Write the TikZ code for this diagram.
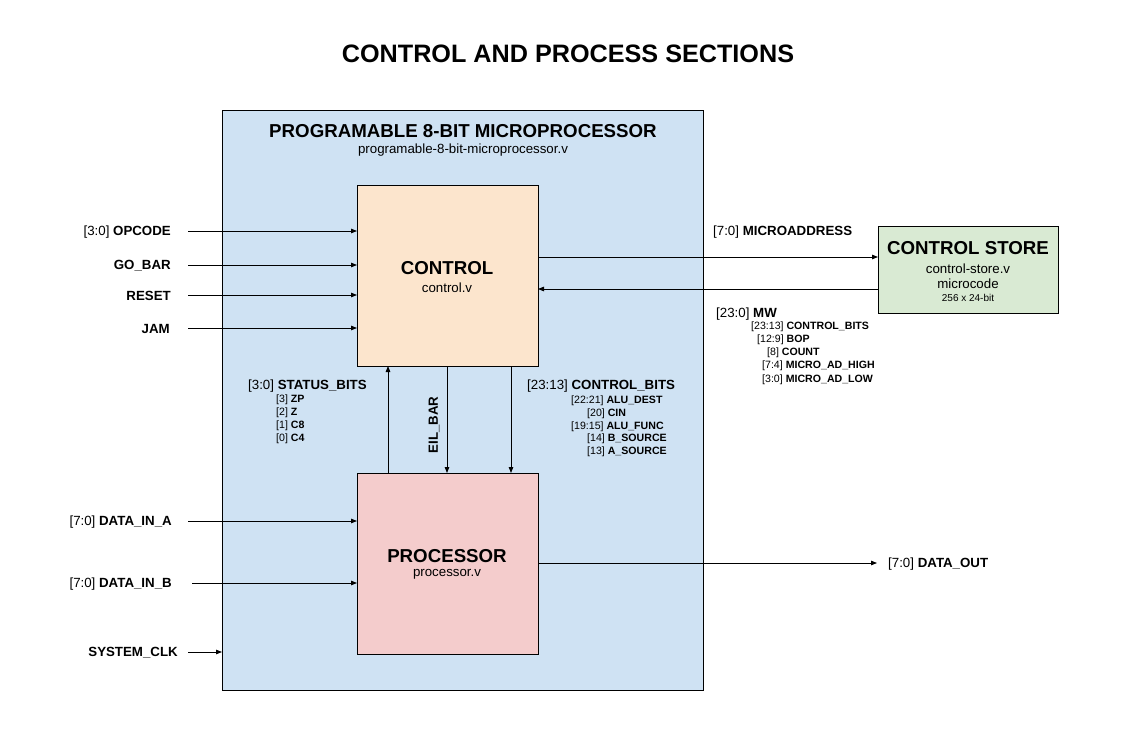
\documentclass[tikz,border=0pt]{standalone}
\usepackage{fontspec}
\setmainfont{Liberation Sans}
\usetikzlibrary{arrows.meta}
\definecolor{outerblue}{HTML}{CFE2F3}
\definecolor{ctrlorange}{HTML}{FCE5CD}
\definecolor{procred}{HTML}{F4CCCC}
\definecolor{storegreen}{HTML}{D9EAD3}
\newcommand{\fsz}[1]{\fontsize{#1}{#1}\selectfont}
\begin{document}
\begin{tikzpicture}[x=1pt,y=-1pt,
  box/.style={draw=black,line width=0.9pt,inner sep=0pt,outer sep=0pt},
  arr/.style={draw=black,line width=0.8pt,-{Triangle[length=6pt,width=4.5pt]}},
  lbl/.style={inner sep=0pt,font=\fsz{13.3}},
  big/.style={inner sep=0pt,font=\fsz{18.7}\bfseries},
  sml/.style={inner sep=0pt,font=\fsz{10.6},anchor=west},
]
\useasboundingbox[fill=white] (0,0) rectangle (1136,736);
% boxes
\node[box,fill=outerblue,minimum width=481pt,minimum height=580pt] (outer) at (462.5,400) {};
\node[box,fill=ctrlorange,minimum width=181pt,minimum height=181pt] (ctrl) at (447.5,275.5) {};
\node[box,fill=procred,minimum width=181pt,minimum height=181pt] (proc) at (447.5,563.5) {};
\node[box,fill=storegreen,minimum width=180pt,minimum height=87pt] (store) at (968,269.5) {};
% titles
\node[inner sep=0pt,font=\fsz{25.2}\bfseries] (title) at (568,54) {CONTROL AND PROCESS SECTIONS};
\node[big] (outertitle) at (463,131.5) {PROGRAMABLE 8-BIT MICROPROCESSOR};
\node[lbl] (outersub) at (463,150.5) {programable-8-bit-microprocessor.v};
\node[big] (ctrltitle) at (447,268.5) {CONTROL};
\node[lbl] (ctrlsub) at (447,287.5) {control.v};
\node[big] (proctitle) at (447,556.5) {PROCESSOR};
\node[lbl] (procsub) at (447,574.5) {processor.v};
\node[big] (storetitle) at (968,248.5) {CONTROL STORE};
\node[lbl] (storesub) at (968,268.5) {control-store.v};
\node[lbl] (storemc) at (968,283.5) {microcode};
\node[inner sep=0pt,font=\fsz{10}] (storesize) at (968,297.5) {256 x 24-bit};
% input labels
\node[lbl,anchor=east] (lopcode) at (171,232.5) {[3:0] \textbf{OPCODE}};
\node[lbl,anchor=east] (lgobar) at (171,266) {\textbf{GO\_BAR}};
\node[lbl,anchor=east] (lreset) at (171,296) {\textbf{RESET}};
\node[lbl,anchor=east] (ljam) at (170,329) {\textbf{JAM}};
\node[lbl,anchor=east] (ldina) at (172,522.5) {[7:0] \textbf{DATA\_IN\_A}};
\node[lbl,anchor=east] (ldinb) at (172,584.5) {[7:0] \textbf{DATA\_IN\_B}};
\node[lbl,anchor=east] (lclk) at (178,653) {\textbf{SYSTEM\_CLK}};
% free ends
\coordinate (opin) at (188,231);
\coordinate (goin) at (188,265);
\coordinate (rsin) at (188,295);
\coordinate (jmin) at (188,328);
\coordinate (dain) at (188,521);
\coordinate (dbin) at (192,583);
\coordinate (clkin) at (188,652);
\coordinate (dout) at (877,563);
\coordinate (marow) at (600,257);
\coordinate (mwrow) at (600,289);
\coordinate (stcol) at (388,400);
\coordinate (eicol) at (447,400);
\coordinate (cbcol) at (511,400);
% input arrows
\draw[arr] (opin) -- (opin -| ctrl.west);
\draw[arr] (goin) -- (goin -| ctrl.west);
\draw[arr] (rsin) -- (rsin -| ctrl.west);
\draw[arr] (jmin) -- (jmin -| ctrl.west);
\draw[arr] (dain) -- (dain -| proc.west);
\draw[arr] (dbin) -- (dbin -| proc.west);
\draw[arr] (clkin) -- (clkin -| outer.west);
% control store links
\draw[arr] (marow -| ctrl.east) -- (marow -| store.west);
\draw[arr] (mwrow -| store.west) -- (mwrow -| ctrl.east);
% vertical links
\draw[arr] (stcol |- proc.north) -- (stcol |- ctrl.south);
\draw[arr] (eicol |- ctrl.south) -- (eicol |- proc.north);
\draw[arr] (cbcol |- ctrl.south) -- (cbcol |- proc.north);
% data out
\draw[arr] (dout -| proc.east) -- (dout);
\node[lbl,anchor=west] (ldout) at (888,564.5) {[7:0] \textbf{DATA\_OUT}};
% microaddress / MW
\node[lbl,anchor=west] (lma) at (713,232.5) {[7:0] \textbf{MICROADDRESS}};
\node[lbl,anchor=west] (lmw) at (716,314.5) {[23:0] \textbf{MW}};
\node[sml] (mw1) at (751,327) {[23:13] \textbf{CONTROL\_BITS}};
\node[sml] (mw2) at (757,340) {[12:9] \textbf{BOP}};
\node[sml] (mw3) at (767,353) {[8] \textbf{COUNT}};
\node[sml] (mw4) at (762,366) {[7:4] \textbf{MICRO\_AD\_HIGH}};
\node[sml] (mw5) at (762,380) {[3:0] \textbf{MICRO\_AD\_LOW}};
% status bits
\node[lbl,anchor=west] (lst) at (248,386.5) {[3:0] \textbf{STATUS\_BITS}};
\node[sml] (st3) at (276,400) {[3] \textbf{ZP}};
\node[sml] (st2) at (276,413) {[2] \textbf{Z}};
\node[sml] (st1) at (276,426) {[1] \textbf{C8}};
\node[sml] (st0) at (276,439) {[0] \textbf{C4}};
% control bits
\node[lbl,anchor=west] (lcb) at (527,386.5) {[23:13] \textbf{CONTROL\_BITS}};
\node[sml] (cb1) at (571,401) {[22:21] \textbf{ALU\_DEST}};
\node[sml] (cb2) at (587,414) {[20] \textbf{CIN}};
\node[sml] (cb3) at (571,427) {[19:15] \textbf{ALU\_FUNC}};
\node[sml] (cb4) at (587,439) {[14] \textbf{B\_SOURCE}};
\node[sml] (cb5) at (587,452) {[13] \textbf{A\_SOURCE}};
% EIL_BAR
\node[lbl,rotate=90] (leil) at (434,425) {\textbf{EIL\_BAR}};
\end{tikzpicture}
\end{document}
